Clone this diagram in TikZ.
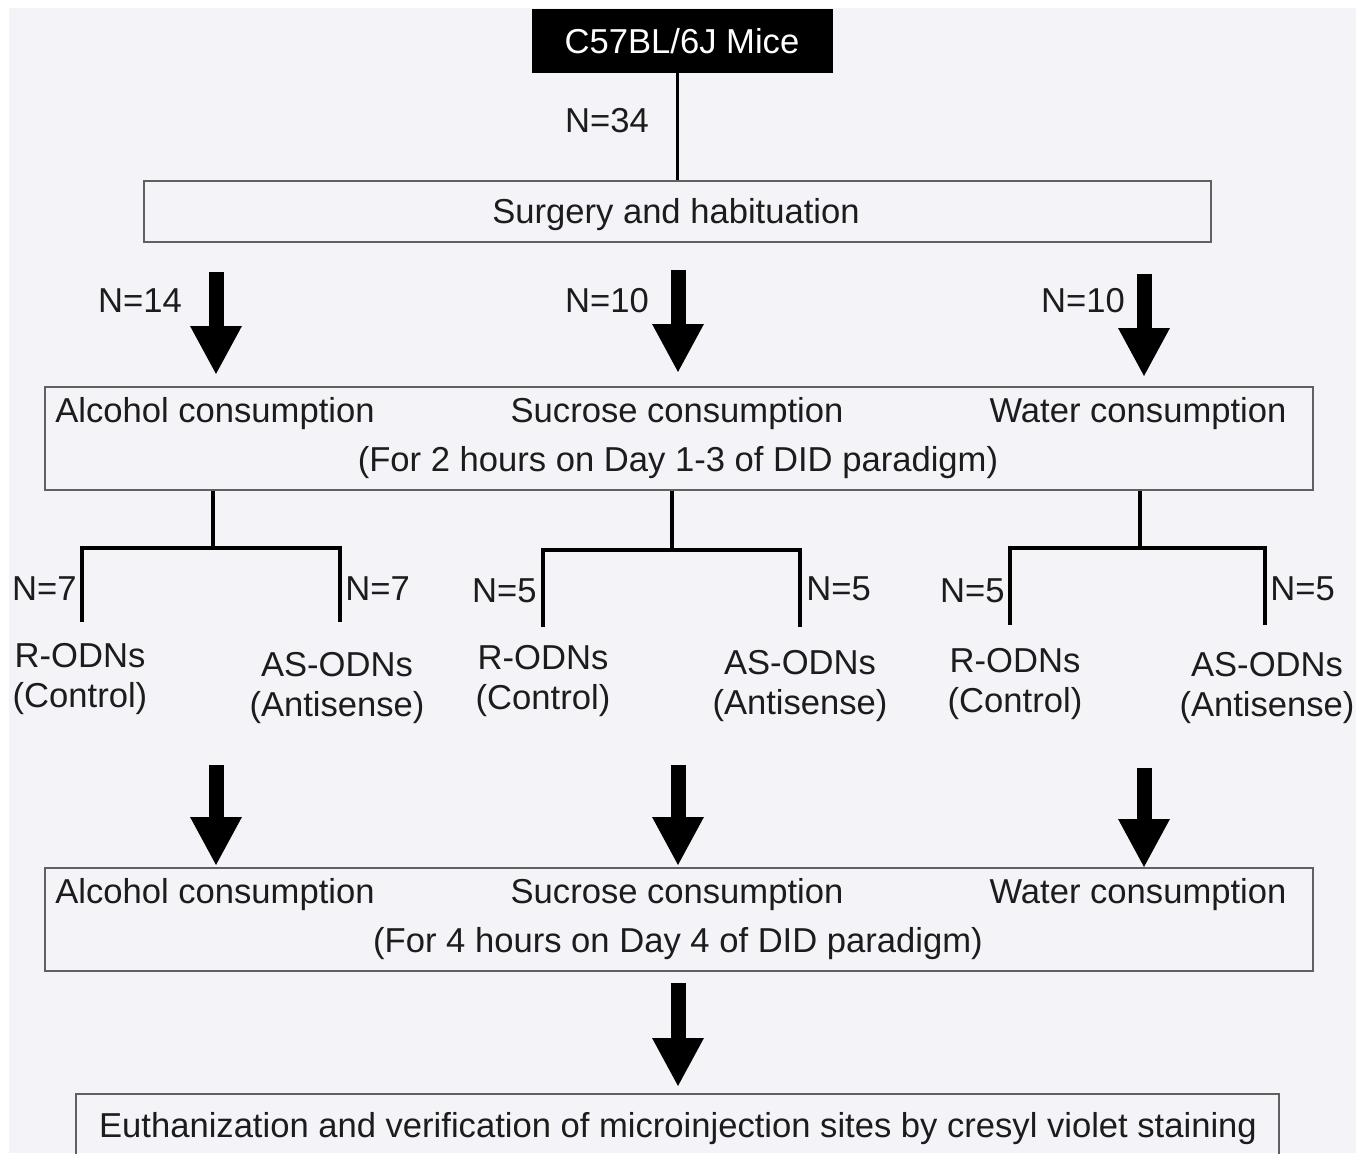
\documentclass[tikz,border=0pt]{standalone}
\usepackage{fontspec}
\setmainfont{Liberation Sans}
\usetikzlibrary{arrows.meta}
\pgfdeclarelayer{paperlayer}
\pgfdeclarelayer{edgelayer}
\pgfdeclarelayer{nodelayer}
\pgfsetlayers{paperlayer,edgelayer,nodelayer,main}
\definecolor{panel}{RGB}{244,244,248}
\definecolor{ink}{RGB}{28,28,28}
\definecolor{rim}{RGB}{96,96,96}
\tikzset{font=\fontsize{17.3}{20}\selectfont}
\tikzstyle{none}=[inner sep=0pt]
\tikzstyle{txt}=[inner sep=0pt,text=ink,text height=12.4pt,text depth=0pt]
\tikzstyle{leaf}=[inner sep=0pt,text=ink,align=center]
\tikzstyle{mice}=[fill=black,draw=black,text=white,inner sep=0pt,minimum width=150pt,minimum height=31.5pt]
\tikzstyle{frame}=[draw=rim,line width=0.75pt,inner sep=0pt]
\tikzstyle{branch}=[line width=1.8pt,line join=miter]
\tikzstyle{fat}=[line width=7.5pt,-{Triangle[width=24pt,length=24.5pt]}]

\begin{document}
\begin{tikzpicture}[x=0.5pt,y=-0.5pt]
	\useasboundingbox (0,0) rectangle (1371,1153);
	\begin{pgfonlayer}{paperlayer}
		\fill[panel] (9,8) rectangle (1356,1153);
	\end{pgfonlayer}
	\begin{pgfonlayer}{nodelayer}
		% top
		\node [style=mice] (0) at (682, 41) {C57BL/6J Mice};
		\node [style=none] (1) at (677, 72) {};
		\node [style=frame, minimum width=533.5pt, minimum height=30.5pt] (2) at (677.5, 211.5) {};
		\node [style=txt] (3) at (676, 211) {Surgery and habituation};
		\node [style=none] (4) at (677, 181) {};
		\node [style=txt] (5) at (607, 120) {N=34};
		% first arrows
		\node [style=none] (6) at (216, 272) {};
		\node [style=none] (7) at (216, 375) {};
		\node [style=none] (8) at (678, 270) {};
		\node [style=none] (9) at (678, 373) {};
		\node [style=none] (10) at (1144, 274) {};
		\node [style=none] (11) at (1144, 377) {};
		\node [style=txt] (12) at (140, 300) {N=14};
		\node [style=txt] (13) at (607, 300) {N=10};
		\node [style=txt] (14) at (1083, 300) {N=10};
		% days 1-3
		\node [style=frame, minimum width=634pt, minimum height=51.5pt] (15) at (679, 438.5) {};
		\node [style=txt] (16) at (215, 410) {Alcohol consumption};
		\node [style=txt] (17) at (677, 410) {Sucrose consumption};
		\node [style=txt] (18) at (1138, 410) {Water consumption};
		\node [style=txt] (19) at (678, 459) {(For 2 hours on Day 1-3 of DID paradigm)};
		% split
		\node [style=none] (20) at (213, 490) {};
		\node [style=none] (21) at (213, 548) {};
		\node [style=none] (22) at (82, 622) {};
		\node [style=none] (23) at (340, 622) {};
		\node [style=none] (24) at (672, 490) {};
		\node [style=none] (25) at (672, 550) {};
		\node [style=none] (26) at (543, 627) {};
		\node [style=none] (27) at (800, 627) {};
		\node [style=none] (28) at (1140, 490) {};
		\node [style=none] (29) at (1140, 548) {};
		\node [style=none] (30) at (1010, 625) {};
		\node [style=none] (31) at (1265, 625) {};
		\node [style=txt, anchor=east] (32) at (77, 588) {N=7};
		\node [style=txt, anchor=west] (33) at (345, 588) {N=7};
		\node [style=txt, anchor=east] (34) at (537, 590) {N=5};
		\node [style=txt, anchor=west] (35) at (806, 588) {N=5};
		\node [style=txt, anchor=east] (36) at (1005, 590) {N=5};
		\node [style=txt, anchor=west] (37) at (1270, 588) {N=5};
		\node [style=leaf] (38) at (80, 679) {R-ODNs\\(Control)};
		\node [style=leaf] (39) at (337, 688) {AS-ODNs\\(Antisense)};
		\node [style=leaf] (40) at (543, 681) {R-ODNs\\(Control)};
		\node [style=leaf] (41) at (800, 686) {AS-ODNs\\(Antisense)};
		\node [style=leaf] (42) at (1015, 684) {R-ODNs\\(Control)};
		\node [style=leaf] (43) at (1267, 688) {AS-ODNs\\(Antisense)};
		% second arrows
		\node [style=none] (44) at (216, 765) {};
		\node [style=none] (45) at (216, 866) {};
		\node [style=none] (46) at (678, 765) {};
		\node [style=none] (47) at (678, 866) {};
		\node [style=none] (48) at (1144, 768) {};
		\node [style=none] (49) at (1144, 868) {};
		% day 4
		\node [style=frame, minimum width=634pt, minimum height=51.5pt] (50) at (679, 919.5) {};
		\node [style=txt] (51) at (215, 891) {Alcohol consumption};
		\node [style=txt] (52) at (677, 891) {Sucrose consumption};
		\node [style=txt] (53) at (1138, 891) {Water consumption};
		\node [style=txt] (54) at (678, 940) {(For 4 hours on Day 4 of DID paradigm)};
		% end
		\node [style=none] (55) at (678, 983) {};
		\node [style=none] (56) at (678, 1087) {};
		\node [style=frame, minimum width=601.5pt, minimum height=38pt] (57) at (677.5, 1132) {};
		\node [style=txt] (58) at (678, 1125) {Euthanization and verification of microinjection sites by cresyl violet staining};
	\end{pgfonlayer}
	\begin{pgfonlayer}{edgelayer}
		\draw[line width=1.5pt] (1.center) to (4.center);
		\draw[style=fat] (6.center) to (7.center);
		\draw[style=fat] (8.center) to (9.center);
		\draw[style=fat] (10.center) to (11.center);
		\draw[style=branch] (20.center) to (21.center);
		\draw[style=branch] (22.center) |- (21.center) -| (23.center);
		\draw[style=branch] (24.center) to (25.center);
		\draw[style=branch] (26.center) |- (25.center) -| (27.center);
		\draw[style=branch] (28.center) to (29.center);
		\draw[style=branch] (30.center) |- (29.center) -| (31.center);
		\draw[style=fat] (44.center) to (45.center);
		\draw[style=fat] (46.center) to (47.center);
		\draw[style=fat] (48.center) to (49.center);
		\draw[style=fat] (55.center) to (56.center);
	\end{pgfonlayer}
\end{tikzpicture}
\end{document}
